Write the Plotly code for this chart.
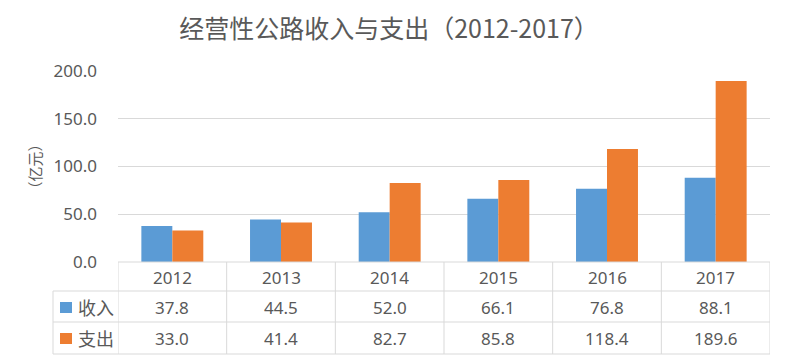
import plotly.graph_objects as go

# ---- data ----
years = ["2012", "2013", "2014", "2015", "2016", "2017"]
income = [37.8, 44.5, 52.0, 66.1, 76.8, 88.1]
expense = [33.0, 41.4, 82.7, 85.8, 118.4, 189.6]
series_names = ["收入", "支出"]
series_values = [income, expense]
colors = ["#5b9bd5", "#ed7d31"]
y_ticks = [0, 50, 100, 150, 200]
title_text = "经营性公路收入与支出（2012-2017）"
y_title = "（亿元）"

# ---- layout constants (pixels) ----
W, H = 789, 359
L, R, T, B = 118, 770, 71, 262
TABLE_LEFT = 53
ROW_LINES = [291, 322, 354]
ROW_CENTERS = [277, 307, 338]
TEXT = "#595959"
GRID = "#d9d9d9"
LATIN = "Noto Sans, Noto Sans CJK SC, sans-serif"
CJK = "Noto Sans CJK SC, Noto Sans, sans-serif"


def px(x):
    return (x - L) / (R - L)


def py(y):
    return (B - y) / (B - T)


fig = go.Figure()
for name, vals, c in zip(series_names, series_values, colors):
    fig.add_bar(x=years, y=vals, name=name, marker_color=c, marker_line_width=0)

shapes = []
line = dict(color=GRID, width=1)
# table horizontal lines
shapes.append(dict(type="line", xref="paper", yref="paper", x0=0, x1=1, y0=py(B), y1=py(B), line=line))
for yl in ROW_LINES:
    shapes.append(dict(type="line", xref="paper", yref="paper", x0=px(TABLE_LEFT), x1=1,
                       y0=py(yl), y1=py(yl), line=line))
# table vertical lines
shapes.append(dict(type="line", xref="paper", yref="paper", x0=px(TABLE_LEFT), x1=px(TABLE_LEFT),
                   y0=py(ROW_LINES[0]), y1=py(ROW_LINES[-1]), line=line))
for i in range(len(years) + 1):
    shapes.append(dict(type="line", xref="x", yref="paper", x0=i - 0.5, x1=i - 0.5,
                       y0=py(B), y1=py(ROW_LINES[-1]), line=line))

annotations = []
# header row (years)
for i, yr in enumerate(years):
    annotations.append(dict(x=i, xref="x", y=py(ROW_CENTERS[0]), yref="paper", text=yr,
                            xanchor="center", yanchor="middle",
                            showarrow=False, font=dict(family=LATIN, size=17, color=TEXT)))
# value rows
for r, (name, vals, c) in enumerate(zip(series_names, series_values, colors)):
    yc = ROW_CENTERS[r + 1]
    for i, v in enumerate(vals):
        annotations.append(dict(x=i, xref="x", y=py(yc), yref="paper", text=f"{v:.1f}",
                                xanchor="center", yanchor="middle",
                                showarrow=False, font=dict(family=LATIN, size=17, color=TEXT)))
    annotations.append(dict(x=px(76), xref="paper", xanchor="left", y=py(yc), yref="paper",
                            yanchor="middle",
                            text=name, showarrow=False, font=dict(family=CJK, size=18, color=TEXT)))
    shapes.append(dict(type="rect", xref="paper", yref="paper", x0=px(60), x1=px(72),
                       y0=py(yc + 6), y1=py(yc - 5), fillcolor=c, line=dict(width=0)))

# y axis title
annotations.append(dict(x=px(34), xref="paper", y=0.5, yref="paper", text=y_title, textangle=-90,
                        xanchor="center", yanchor="middle",
                        showarrow=False, font=dict(family=CJK, size=15, color=TEXT)))

fig.update_layout(
    width=W, height=H,
    margin=dict(l=L, r=W - R, t=T, b=H - B, pad=0),
    paper_bgcolor="white", plot_bgcolor="white",
    showlegend=False,
    barmode="group", bargap=0.43, bargroupgap=0,
    title=dict(text=title_text, x=389 / W, xanchor="center", xref="container",
               y=1 - 29.5 / H, yanchor="middle", yref="container",
               font=dict(family=CJK, size=25, color=TEXT)),
    xaxis=dict(type="category", range=[-0.5, len(years) - 0.5], showticklabels=False,
               showgrid=False, zeroline=False, showline=False, ticks=""),
    yaxis=dict(range=[0, 200], tickvals=y_ticks, tickformat=".1f", showgrid=True,
               gridcolor=GRID, gridwidth=1, zeroline=False, showline=False, ticks="",
               ticklabelstandoff=20, tickfont=dict(family=LATIN, size=17, color=TEXT)),
    shapes=shapes, annotations=annotations,
)

fig.write_html("out.html", config={"displayModeBar": False},
               post_script="document.body.style.margin='0';")
